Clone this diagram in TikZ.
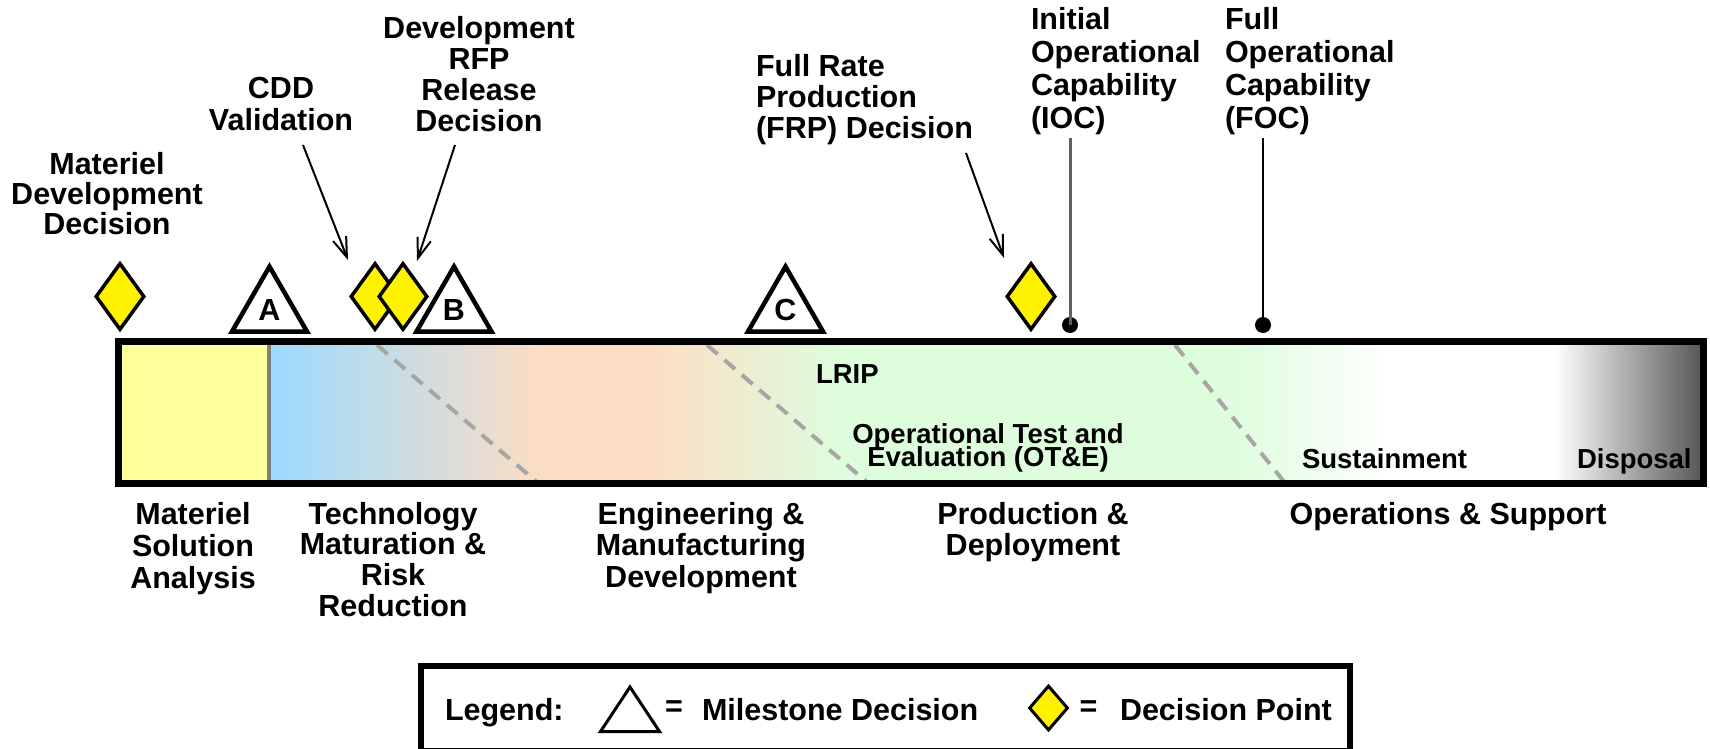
\documentclass[tikz,border=0pt]{standalone}
\usepackage{fontspec}
\setmainfont{Liberation Sans}
\usetikzlibrary{arrows.meta,shapes.geometric}
\newcommand\lblfont{\fontsize{30.5pt}{31.5pt}\selectfont\bfseries\lineskiplimit=-100pt\relax}
\newcommand\barfont{\fontsize{27.5pt}{23pt}\selectfont\bfseries\lineskiplimit=-100pt\relax}
\definecolor{cBlue}{RGB}{155,219,255}
\definecolor{cPeach}{RGB}{252,221,196}
\definecolor{cGreen}{RGB}{221,253,221}
\definecolor{cYellow}{RGB}{255,255,153}
\definecolor{cDash}{RGB}{166,166,166}
\definecolor{cDisp}{RGB}{85,85,85}
\definecolor{cDiv}{RGB}{128,128,128}
\definecolor{cIOC}{RGB}{95,95,95}
\begin{document}
\begin{tikzpicture}[x=1pt,y=-1pt,
  lbl/.style={font={\lblfont\baselineskip=#1pt}, inner sep=0pt, outer sep=0pt,
    execute at begin node={\rule{0pt}{0.74em}}},
  lbl/.default=31.5,
  barlbl/.style={font=\barfont, inner sep=0pt, outer sep=0pt,
    execute at begin node={\rule{0pt}{0.74em}}},
  dpoint/.style={diamond, draw=black, fill=yellow, line width=3.5pt,
    minimum width=49pt, minimum height=67pt, inner sep=0pt},
  mstone/.style={regular polygon, regular polygon sides=3, draw=black, fill=white,
    line width=4.5pt, minimum size=86.8pt, inner sep=0pt,
    font=\fontsize{30.5pt}{30.5pt}\selectfont\bfseries},
  callout/.style={line width=2pt, -{Straight Barb[length=20pt,width=14pt]}},
  phaseline/.style={draw=cDash, line width=4pt, dash pattern=on 14pt off 9pt},
  barborder/.style={draw=black, line width=7pt},
  dot/.style={circle, fill=black, minimum size=16pt, inner sep=0pt},
  iocline/.style={draw=cIOC, line width=3pt},
  focline/.style={draw=black, line width=2.5pt},
  legborder/.style={draw=black, line width=6pt},
  legtri/.style={draw=black, fill=white, line width=3pt},
  legdp/.style={dpoint, line width=3pt, minimum width=39pt, minimum height=45pt},
]
\useasboundingbox (0,0) rectangle (1710,749);
\fill[white] (0,0) rectangle (1710,749);

% ---- phase bar fills ----
\fill[cYellow] (118.5,341.5) rectangle (269,483.5);
\shade[left color=cBlue, right color=cPeach] (269,341.5) rectangle (541,483.5);
\fill[cPeach] (540,341.5) rectangle (651,483.5);
\shade[left color=cPeach, right color=cGreen] (650,341.5) rectangle (841,483.5);
\fill[cGreen] (840,341.5) rectangle (1231,483.5);
\shade[left color=cGreen, right color=white] (1230,341.5) rectangle (1391,483.5);
\shade[left color=white, right color=cDisp] (1555,341.5) rectangle (1703.5,483.5);
\draw[cDiv, line width=4pt] (269,341.5) -- (269,483.5);

% ---- dashed phase transitions ----
\coordinate (d1a) at (377,345); \coordinate (d1b) at (538,483);
\coordinate (d2a) at (707,345); \coordinate (d2b) at (868,483);
\coordinate (d3a) at (1175,345); \coordinate (d3b) at (1285,483);
\draw[phaseline] (d1a) -- (d1b);
\draw[phaseline] (d2a) -- (d2b);
\draw[phaseline] (d3a) -- (d3b);

% ---- bar border ----
\draw[barborder] (118.5,341.5) rectangle (1703.5,483.5);

% ---- texts inside the bar ----
\node[barlbl, anchor=base west] (lrip) at (816,383) {LRIP};
\node[barlbl, align=center, anchor=north] (ote) at (988,424) {Operational Test and\\Evaluation (OT\&E)};
\node[barlbl, anchor=base west] (sust) at (1302,468) {Sustainment};
\node[barlbl, anchor=base west] (disp) at (1577,468) {Disposal};

% ---- decision points ----
\node[dpoint] (mdd) at (120,296.5) {};
\node[dpoint] (cdd) at (375,296.5) {};
\node[dpoint] (rfp) at (403,296.5) {};
\node[dpoint] (frp) at (1031,296.5) {};

% ---- milestones ----
\node[mstone] (msA) at (269.5,310) {A};
\node[mstone] (msB) at (454,310) {B};
\node[mstone] (msC) at (785.5,310) {C};

% ---- top labels ----
\node[lbl=30, align=center, anchor=north] (lMDD) at (107,152) {Materiel\\Development\\Decision};
\node[lbl=32, align=center, anchor=north] (lCDD) at (281,77) {CDD\\Validation};
\node[lbl=31, align=center, anchor=north] (lRFP) at (479,16) {Development\\RFP\\Release\\Decision};
\node[lbl=31, align=left, anchor=north west] (lFRP) at (756,54) {Full Rate\\Production\\(FRP) Decision};
\node[lbl=33, align=left, anchor=north west] (lIOC) at (1031,7) {Initial\\Operational\\Capability\\(IOC)};
\node[lbl=33, align=left, anchor=north west] (lFOC) at (1225,7) {Full\\Operational\\Capability\\(FOC)};

% ---- callout arrows ----
\coordinate (cddS) at (303,145); \coordinate (cddE) at (348,260);
\coordinate (rfpS) at (455,145); \coordinate (rfpE) at (417,261);
\coordinate (frpS) at (966,153); \coordinate (frpE) at (1004,258);
\draw[callout] (cddS) -- (cddE);
\draw[callout] (rfpS) -- (rfpE);
\draw[callout] (frpS) -- (frpE);

% ---- IOC / FOC markers ----
\coordinate (iocTop) at (1070,138);
\coordinate (focTop) at (1263,138);
\node[dot] (iocDot) at (1070,325) {};
\node[dot] (focDot) at (1263,325) {};
\draw[iocline] (iocTop) -- (iocDot.center);
\draw[focline] (focTop) -- (focDot.center);

% ---- phase labels ----
\node[lbl=32, align=center, anchor=north] (pMSA) at (193,502) {Materiel\\Solution\\Analysis};
\node[lbl=30.7, align=center, anchor=north] (pTMRR) at (393,502) {Technology\\Maturation \&\\Risk\\Reduction};
\node[lbl, align=center, anchor=north] (pEMD) at (701,502) {Engineering \&\\Manufacturing\\Development};
\node[lbl, align=center, anchor=north] (pPD) at (1033,502) {Production \&\\Deployment};
\node[lbl, align=center, anchor=north] (pOS) at (1448,502) {Operations \& Support};

% ---- legend ----
\draw[legborder] (421,666) rectangle (1350,751);
\node[lbl, anchor=base west] (legTxt) at (445,720) {Legend:};
\coordinate (lt1) at (600.5,731.5);
\coordinate (lt2) at (659.5,731.5);
\coordinate (lt3) at (630,687);
\draw[legtri] (lt1) -- (lt2) -- (lt3) -- cycle;
\node[lbl, anchor=base] (eq1) at (674,716) {=};
\node[lbl, anchor=base west] (legMs) at (702,720) {Milestone Decision};
\node[legdp] (legDp) at (1048.5,708) {};
\node[lbl, anchor=base] (eq2) at (1088.5,716) {=};
\node[lbl, anchor=base west] (legDpTxt) at (1120,720) {Decision Point};
\end{tikzpicture}
\end{document}
